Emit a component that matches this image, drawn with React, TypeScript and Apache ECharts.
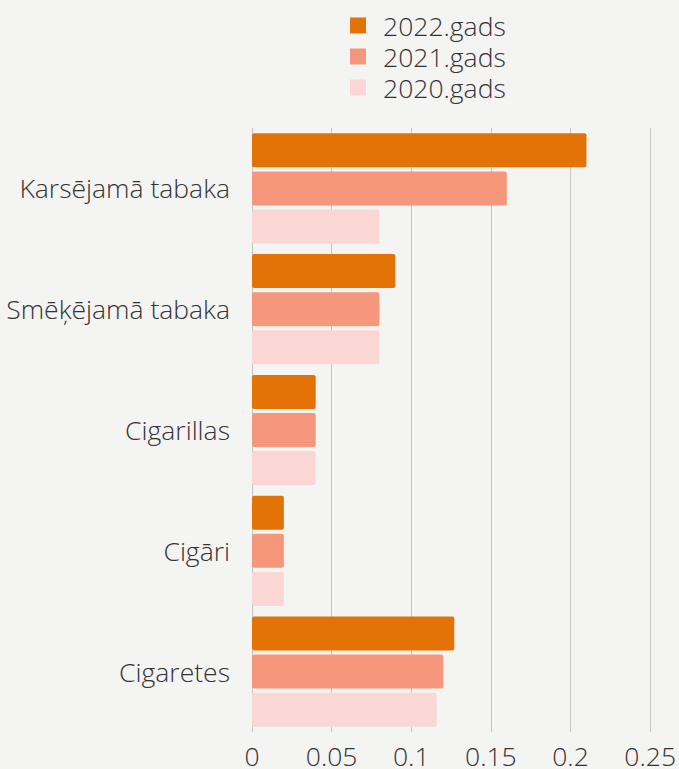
import React, { useEffect, useRef } from "react";
import * as echarts from "echarts";

const categories = ["Cigaretes", "Cigāri", "Cigarillas", "Smēķējamā tabaka", "Karsējamā tabaka"];
const values2022 = [0.127, 0.02, 0.04, 0.09, 0.21];
const values2021 = [0.12, 0.02, 0.04, 0.08, 0.16];
const values2020 = [0.116, 0.02, 0.04, 0.08, 0.08];
const seriesNames = ["2022.gads", "2021.gads", "2020.gads"];
const colors = ["#E37307", "#F5977B", "#FAD7D5"];

export default function App() {
  const ref = useRef<HTMLDivElement>(null);
  useEffect(() => {
    if (!ref.current) return;
    const chart = echarts.init(ref.current, null, { renderer: "svg" });
    const font = "'Open Sans', sans-serif";
    const txt = { fontSize: 26.5, fontWeight: 300, color: "#333", fontFamily: font };
    const barBase = { type: "bar", barWidth: 34, barGap: "12%" };
    chart.setOption({
      animation: false,
      backgroundColor: "#f4f4f3",
      textStyle: { fontFamily: font },
      legend: {
        orient: "vertical",
        left: 345,
        top: 7,
        itemWidth: 16,
        itemHeight: 16,
        itemGap: 4,
        icon: "rect",
        data: seriesNames,
        textStyle: { ...txt, lineHeight: 26, padding: [0, 0, 0, 12] },
      },
      grid: { left: 252, right: 27, top: 128, height: 605, containLabel: false },
      xAxis: {
        type: "value",
        min: 0,
        max: 0.25,
        interval: 0.05,
        axisLine: { show: false },
        axisTick: { show: false },
        splitLine: { show: true, lineStyle: { color: "#c4c4c4", width: 1 } },
        axisLabel: { ...txt, margin: 10 },
      },
      yAxis: {
        type: "category",
        data: categories,
        axisLine: { show: false },
        axisTick: { show: false },
        axisLabel: { ...txt, margin: 22 },
      },
      series: [
        { ...barBase, name: seriesNames[0], data: values2022, itemStyle: { color: colors[0], borderRadius: 2 } },
        { ...barBase, name: seriesNames[1], data: values2021, itemStyle: { color: colors[1], borderRadius: 2 } },
        { ...barBase, name: seriesNames[2], data: values2020, itemStyle: { color: colors[2], borderRadius: 2 } },
      ],
    });
    return () => chart.dispose();
  }, []);
  return <div ref={ref} style={{ position: "absolute", left: 0, top: 0, width: 679, height: 769 }} />;
}
